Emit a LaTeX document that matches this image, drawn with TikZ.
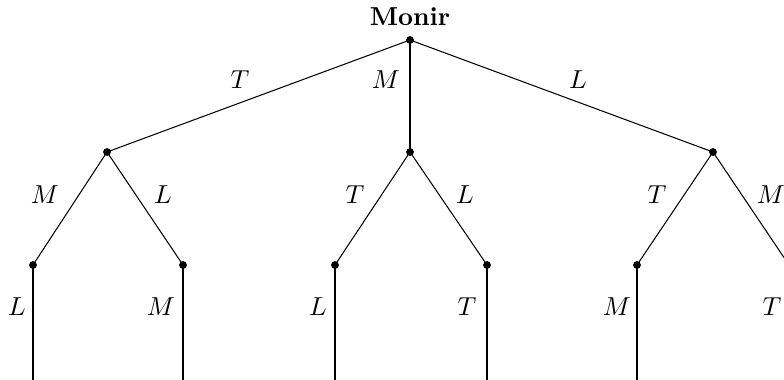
\documentclass[tikz,border=0pt]{standalone}
\begin{document}
\begin{tikzpicture}[x=0.385pt,y=-0.385pt,
  dot/.style={circle,fill=black,inner sep=0pt,minimum size=3pt},
  lbl/.style={inner sep=0pt},
  edge/.style={line width=0.4pt}]
\useasboundingbox (0,0) rectangle (784,380);
\clip (0,0) rectangle (784,380);
\node[font=\bfseries] (title) at (410,17) {Monir};
\node[dot] (r) at (410,40) {};
\node[dot] (a) at (107,152) {};
\node[dot] (b) at (410,152) {};
\node[dot] (c) at (713,152) {};
\node[dot] (a1) at (33,265) {};
\node[dot] (a2) at (183,265) {};
\node[dot] (b1) at (335,265) {};
\node[dot] (b2) at (487,265) {};
\node[dot] (c1) at (637,265) {};
\node[dot] (c2) at (789,265) {};
\coordinate (la1) at (33,380);
\coordinate (la2) at (183,380);
\coordinate (lb1) at (335,380);
\coordinate (lb2) at (487,380);
\coordinate (lc1) at (637,380);
\coordinate (lc2) at (789,380);
\draw[edge] (r.center) -- (a.center);
\draw[edge] (r.center) -- (b.center);
\draw[edge] (r.center) -- (c.center);
\foreach \p/\q in {a/a1,a/a2,b/b1,b/b2,c/c1,c/c2}
  \draw[edge] (\p.center) -- (\q.center);
\foreach \p/\q in {a1/la1,a2/la2,b1/lb1,b2/lb2,c1/lc1,c2/lc2}
  \draw[edge] (\p.center) -- (\q);
\node[lbl] (t1) at (240,80) {$T$};
\node[lbl] (t2) at (386,80) {$M$};
\node[lbl] (t3) at (578,80) {$L$};
\node[lbl] (u1) at (45,195) {$M$};
\node[lbl] (u2) at (163,195) {$L$};
\node[lbl] (u3) at (355,195) {$T$};
\node[lbl] (u4) at (465,195) {$L$};
\node[lbl] (u5) at (657,195) {$T$};
\node[lbl] (u6) at (771,195) {$M$};
\node[lbl] (v1) at (17,307) {$L$};
\node[lbl] (v2) at (161,307) {$M$};
\node[lbl] (v3) at (318,307) {$L$};
\node[lbl] (v4) at (467,307) {$T$};
\node[lbl] (v5) at (617,307) {$M$};
\node[lbl] (v6) at (772,307) {$T$};
\end{tikzpicture}
\end{document}
